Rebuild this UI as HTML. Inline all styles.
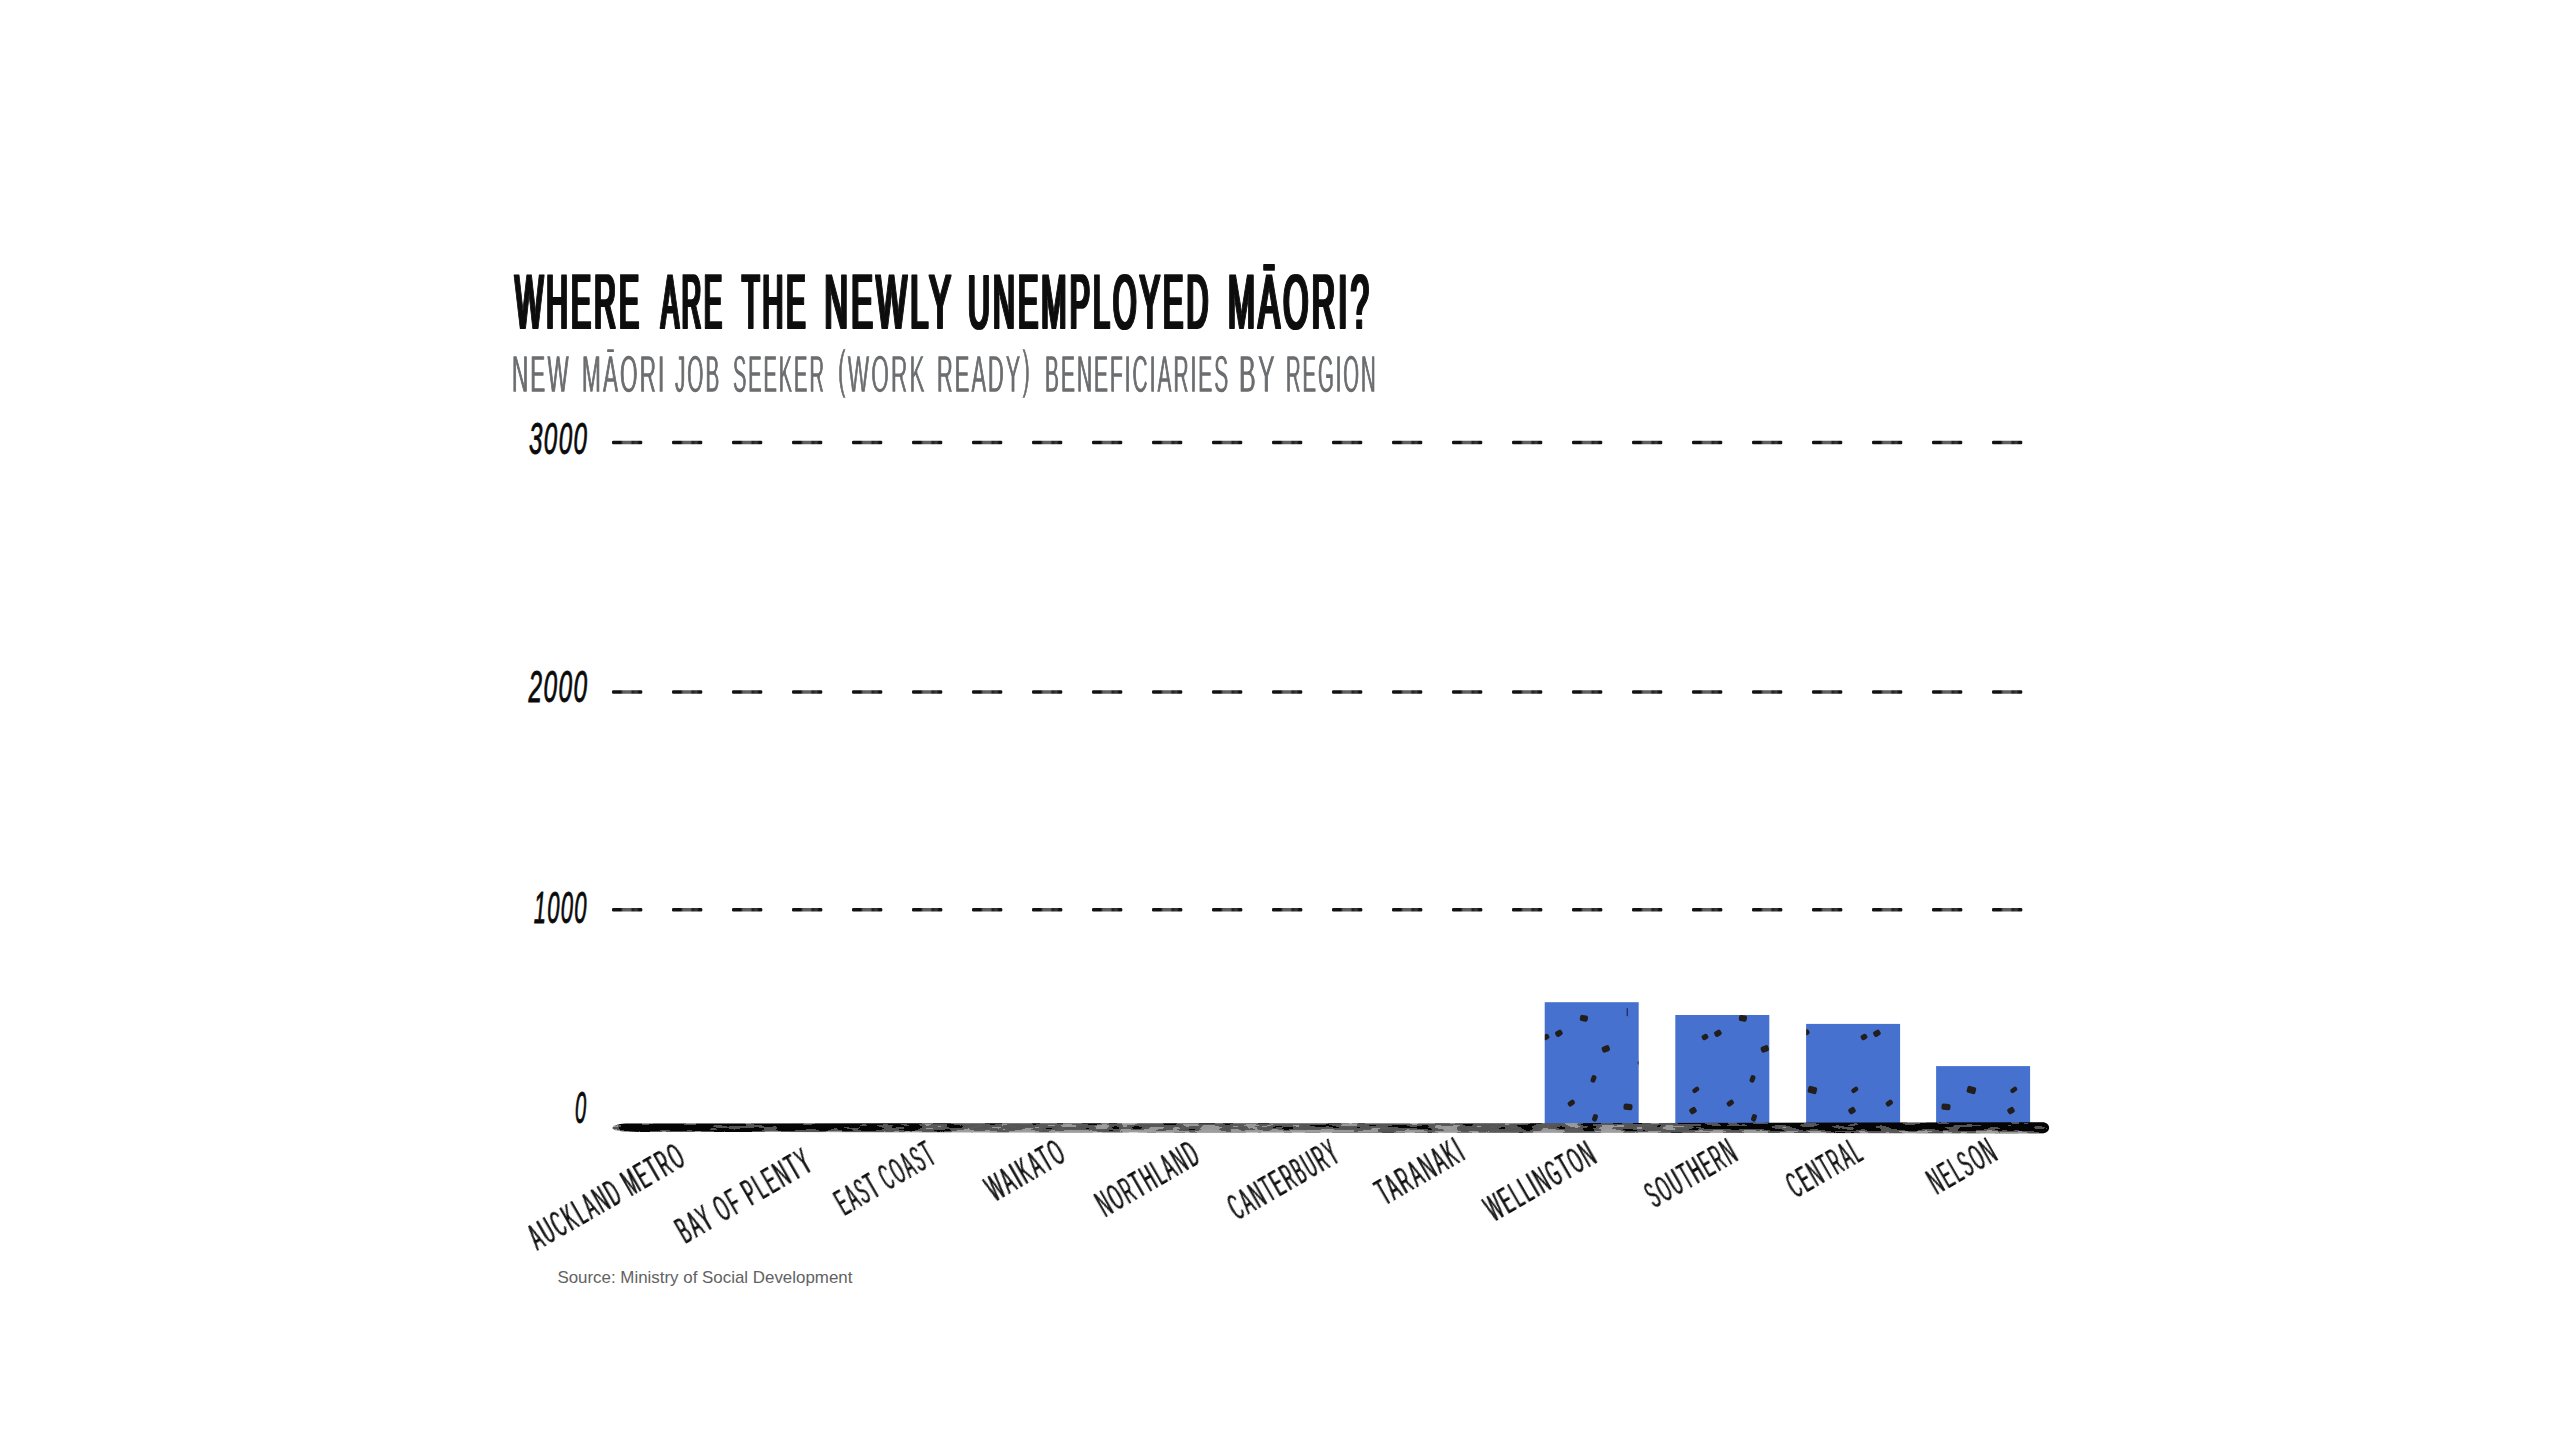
<!DOCTYPE html>
<html lang="en">
<head>
<meta charset="utf-8">
<title>Where are the newly unemployed Māori?</title>
<style>
html,body{margin:0;padding:0;background:#fff;}
body{width:2560px;height:1440px;overflow:hidden;}
svg{display:block;}
text{font-family:"Liberation Sans", sans-serif;stroke-linejoin:round;stroke-linecap:round;vector-effect:non-scaling-stroke;}
.t{font-size:76.4px;font-weight:normal;font-style:normal;fill:#0a0a0a;stroke:#0a0a0a;stroke-width:1.6;letter-spacing:8px;}
.s{font-size:52.6px;font-weight:normal;font-style:normal;fill:#6b6d6f;stroke:#6b6d6f;stroke-width:1.3;letter-spacing:5px;}
.y{font-size:43.5px;font-weight:normal;font-style:italic;fill:#0a0a0a;stroke:#0a0a0a;stroke-width:0.7;letter-spacing:2.5px;}
.x{font-size:36.5px;font-weight:normal;font-style:normal;fill:#0a0a0a;stroke:#0a0a0a;stroke-width:1.5;letter-spacing:5px;}
.src{font-size:17px;fill:#626262;stroke:none;}
</style>
</head>
<body>
<svg width="2560" height="1440" viewBox="0 0 2560 1440">
<defs>
<pattern id="dots" patternUnits="userSpaceOnUse" x="1544" y="1000" width="159" height="159">
<rect x="0" y="0" width="159" height="159" fill="#4771cf"/>
<rect x="35.9" y="15.2" width="8" height="6.2" rx="2" fill="#211e1b" transform="rotate(10 39.9 18.3)"/>
<rect x="11.3" y="30.3" width="7.2" height="6" rx="2" fill="#211e1b" transform="rotate(-30 14.9 33.3)"/>
<rect x="-1.2" y="34.3" width="6.4" height="5.4" rx="2" fill="#211e1b" transform="rotate(-30 2.0 37.0)"/>
<rect x="157.8" y="34.3" width="6.4" height="5.4" rx="2" fill="#211e1b" transform="rotate(-30 161.0 37.0)"/>
<rect x="57.8" y="45.8" width="8" height="6.2" rx="2" fill="#211e1b" transform="rotate(-20 61.8 48.9)"/>
<rect x="93.6" y="60.1" width="6" height="5" rx="2" fill="#211e1b" transform="rotate(-30 96.6 62.6)"/>
<rect x="47.0" y="75.2" width="5" height="7.4" rx="2" fill="#211e1b" transform="rotate(20 49.5 78.9)"/>
<rect x="23.6" y="100.5" width="7.4" height="5.2" rx="2" fill="#211e1b" transform="rotate(-35 27.3 103.1)"/>
<rect x="79.5" y="103.7" width="9" height="6.4" rx="2" fill="#211e1b" transform="rotate(5 84.0 106.9)"/>
<rect x="48.5" y="114.1" width="5" height="7.4" rx="2" fill="#211e1b" transform="rotate(20 51.0 117.8)"/>
<rect x="148.1" y="87.5" width="7.4" height="4.6" rx="2" fill="#211e1b" transform="rotate(-35 151.8 89.8)"/>
<rect x="-10.9" y="87.5" width="7.4" height="4.6" rx="2" fill="#211e1b" transform="rotate(-35 -7.2 89.8)"/>
<rect x="145.5" y="107.5" width="7" height="6.2" rx="2" fill="#211e1b" transform="rotate(-30 149.0 110.6)"/>
<rect x="-13.5" y="107.5" width="7" height="6.2" rx="2" fill="#211e1b" transform="rotate(-30 -10.0 110.6)"/>
<rect x="104.9" y="86.4" width="9" height="7.2" rx="2" fill="#211e1b" transform="rotate(15 109.4 90.0)"/>
<rect x="101.0" y="29.5" width="5.4" height="5.4" rx="2" fill="#211e1b" transform="rotate(-30 103.7 32.2)"/>
<rect x="82.6" y="8.2" width="1.3" height="8" fill="#1b2a63"/>
</pattern>
<linearGradient id="axg" gradientUnits="userSpaceOnUse" x1="612" y1="0" x2="2049" y2="0">
<stop offset="0" stop-color="#8a8a8a"/>
<stop offset="0.004" stop-color="#808080"/>
<stop offset="0.0065" stop-color="#0d0d0d"/>
<stop offset="0.15" stop-color="#101010"/>
<stop offset="0.21" stop-color="#3c3c3c"/>
<stop offset="0.245" stop-color="#7e7e7e"/>
<stop offset="0.42" stop-color="#888"/>
<stop offset="0.58" stop-color="#848484"/>
<stop offset="0.615" stop-color="#606060"/>
<stop offset="0.65" stop-color="#808080"/>
<stop offset="0.70" stop-color="#727272"/>
<stop offset="0.745" stop-color="#5a5a5a"/>
<stop offset="0.79" stop-color="#3c3c3c"/>
<stop offset="0.86" stop-color="#1e1e1e"/>
<stop offset="1" stop-color="#0d0d0d"/>
</linearGradient>
<linearGradient id="axv" gradientUnits="userSpaceOnUse" x1="0" y1="1122" x2="0" y2="1134">
<stop offset="0" stop-color="#000" stop-opacity="0.22"/>
<stop offset="0.45" stop-color="#777" stop-opacity="0"/>
<stop offset="0.7" stop-color="#fff" stop-opacity="0.1"/>
<stop offset="0.8" stop-color="#fff" stop-opacity="0.42"/>
<stop offset="1" stop-color="#fff" stop-opacity="0.5"/>
</linearGradient>
<clipPath id="axc"><path d="M612.5 1128.3 C613 1126 617 1124 626 1123.6 L900 1123.2 L1500 1123.4 L1900 1122.4 L2042 1122.2 C2051.5 1122.2 2051.5 1133.2 2042 1133.2 L1700 1132.8 L1100 1132.3 L640 1131.9 C626 1131.9 614 1131.5 612.5 1128.3 Z"/></clipPath>
<filter id="brush" filterUnits="userSpaceOnUse" x="600" y="1114" width="1460" height="28" color-interpolation-filters="sRGB">
<feTurbulence type="fractalNoise" baseFrequency="0.05 0.2" numOctaves="2" seed="11" result="n"/>
<feColorMatrix in="n" type="matrix" values="1 0 0 0 0  1 0 0 0 0  1 0 0 0 0  0 0 0 0 1" result="g"/>
<feComposite in="SourceGraphic" in2="g" operator="arithmetic" k1="0" k2="1" k3="1.6" k4="-0.8" result="m"/>
<feComponentTransfer in="m" result="p">
<feFuncR type="discrete" tableValues="0.02 0.02 0.33 0.33 0.35 0.6 0.6 0.62"/>
<feFuncG type="discrete" tableValues="0.02 0.02 0.33 0.33 0.35 0.6 0.6 0.62"/>
<feFuncB type="discrete" tableValues="0.02 0.02 0.33 0.33 0.35 0.6 0.6 0.62"/>
</feComponentTransfer>
<feComposite in="p" in2="SourceGraphic" operator="in"/>
</filter>

<filter id="fat" filterUnits="userSpaceOnUse" x="480" y="240" width="920" height="110"><feMorphology operator="dilate" radius="1 0"/></filter>
<filter id="thin" filterUnits="userSpaceOnUse" x="480" y="335" width="920" height="80"><feMorphology operator="erode" radius="0 1"/></filter>
<filter id="thinx" x="-5%" y="-25%" width="110%" height="150%"><feMorphology operator="erode" radius="0 1"/></filter>
<linearGradient id="dg" x1="0" y1="0" x2="1" y2="0"><stop offset="0" stop-color="#161616"/><stop offset="0.28" stop-color="#0e0e0e"/><stop offset="0.37" stop-color="#5c5c5c"/><stop offset="0.6" stop-color="#626262"/><stop offset="0.68" stop-color="#202020"/><stop offset="0.8" stop-color="#3c3c3c"/><stop offset="0.9" stop-color="#101010"/><stop offset="1" stop-color="#181818"/></linearGradient>
<pattern id="dash" patternUnits="userSpaceOnUse" x="612" y="0" width="60" height="1440"><rect x="0" y="440.8" width="30.3" height="3.4" rx="1.2" fill="url(#dg)"/><rect x="0" y="690.3" width="30.3" height="3.4" rx="1.2" fill="url(#dg)"/><rect x="0" y="908.05" width="30.3" height="3.4" rx="1.2" fill="url(#dg)"/></pattern>
</defs>
<g id="title" filter="url(#fat)">
<text id="t0" class="t" transform="translate(515.00 328.00) scale(0.3917 1)">WHERE</text>
<text id="t1" class="t" transform="translate(661.00 328.00) scale(0.3515 1)">ARE</text>
<text id="t2" class="t" transform="translate(742.00 328.00) scale(0.3764 1)">THE</text>
<text id="t3" class="t" transform="translate(824.60 328.00) scale(0.4237 1)">NEWLY</text>
<text id="t4" class="t" transform="translate(968.00 328.00) scale(0.3960 1)">UNEMPLOYED</text>
<text id="t5" class="t" transform="translate(1228.00 328.00) scale(0.4225 1)">MĀORI?</text>
</g>
<g id="subtitle" filter="url(#thin)">
<text id="s0" class="s" transform="translate(512.00 391.80) scale(0.4262 1)">NEW</text>
<text id="s1" class="s" transform="translate(582.00 391.80) scale(0.4280 1)">MĀORI</text>
<text id="s2" class="s" transform="translate(675.00 391.80) scale(0.3939 1)">JOB</text>
<text id="s3" class="s" transform="translate(733.00 391.80) scale(0.3813 1)">SEEKER</text>
<text id="s4" class="s" transform="translate(838.00 391.80) scale(0.4308 1)"><tspan dy="-4.5">(</tspan><tspan dy="4.5">WORK</tspan></text>
<text id="s5" class="s" transform="translate(937.00 391.80) scale(0.4145 1)">READY<tspan dy="-4.5">)</tspan></text>
<text id="s6" class="s" transform="translate(1045.00 391.80) scale(0.3980 1)">BENEFICIARIES</text>
<text id="s7" class="s" transform="translate(1239.00 391.80) scale(0.4761 1)">BY</text>
<text id="s8" class="s" transform="translate(1286.00 391.80) scale(0.3857 1)">REGION</text>
</g>
<rect id="grid" x="612" y="430" width="1411" height="490" fill="url(#dash)"/>
<g id="ylabels">
<text id="y0" class="y" transform="translate(529.00 454.20) scale(0.5553 1)">3000</text>
<text id="y1" class="y" transform="translate(528.50 701.60) scale(0.5618 1)">2000</text>
<text id="y2" class="y" transform="translate(533.75 923.00) scale(0.5067 1)">1000</text>
<text id="y3" class="y" transform="translate(575.00 1123.30) scale(0.4617 1)">0</text>
</g>
<g id="bars" fill="url(#dots)">
<rect x="1544.7" y="1002.2" width="94" height="123.8"/>
<rect x="1675.3" y="1015" width="94" height="111"/>
<rect x="1806.1" y="1023.9" width="94" height="102.1"/>
<rect x="1936.1" y="1066.1" width="94" height="59.9"/>
</g>
<g id="axis" filter="url(#brush)"><g clip-path="url(#axc)"><rect x="610" y="1120" width="1442" height="16" fill="url(#axg)"/><rect x="610" y="1120" width="1442" height="16" fill="url(#axv)"/></g></g>

<g id="xlabels">
<g transform="translate(537.46 1250.80) rotate(-30)" filter="url(#thinx)"><text id="x0" class="x" transform="scale(0.4260 1)">AUCKLAND METRO</text></g>
<g transform="translate(685.27 1244.17) rotate(-30)" filter="url(#thinx)"><text id="x1" class="x" transform="scale(0.4348 1)">BAY OF PLENTY</text></g>
<g transform="translate(844.44 1216.15) rotate(-30)" filter="url(#thinx)"><text id="x2" class="x" transform="scale(0.3896 1)">EAST COAST</text></g>
<g transform="translate(994.89 1202.33) rotate(-30)" filter="url(#thinx)"><text id="x3" class="x" transform="scale(0.4326 1)">WAIKATO</text></g>
<g transform="translate(1105.34 1217.67) rotate(-30)" filter="url(#thinx)"><text id="x4" class="x" transform="scale(0.4173 1)">NORTHLAND</text></g>
<g transform="translate(1237.35 1220.94) rotate(-30)" filter="url(#thinx)"><text id="x5" class="x" transform="scale(0.4062 1)">CANTERBURY</text></g>
<g transform="translate(1385.02 1205.89) rotate(-30)" filter="url(#thinx)"><text id="x6" class="x" transform="scale(0.4382 1)">TARANAKI</text></g>
<g transform="translate(1493.92 1222.31) rotate(-30)" filter="url(#thinx)"><text id="x7" class="x" transform="scale(0.4215 1)">WELLINGTON</text></g>
<g transform="translate(1654.50 1208.79) rotate(-30)" filter="url(#thinx)"><text id="x8" class="x" transform="scale(0.4085 1)">SOUTHERN</text></g>
<g transform="translate(1795.91 1198.85) rotate(-30)" filter="url(#thinx)"><text id="x9" class="x" transform="scale(0.3959 1)">CENTRAL</text></g>
<g transform="translate(1936.82 1195.19) rotate(-30)" filter="url(#thinx)"><text id="x10" class="x" transform="scale(0.4111 1)">NELSON</text></g>
</g>
<text class="src" x="557.4" y="1283.3" textLength="295" lengthAdjust="spacingAndGlyphs">Source: Ministry of Social Development</text>
</svg>
</body>
</html>
